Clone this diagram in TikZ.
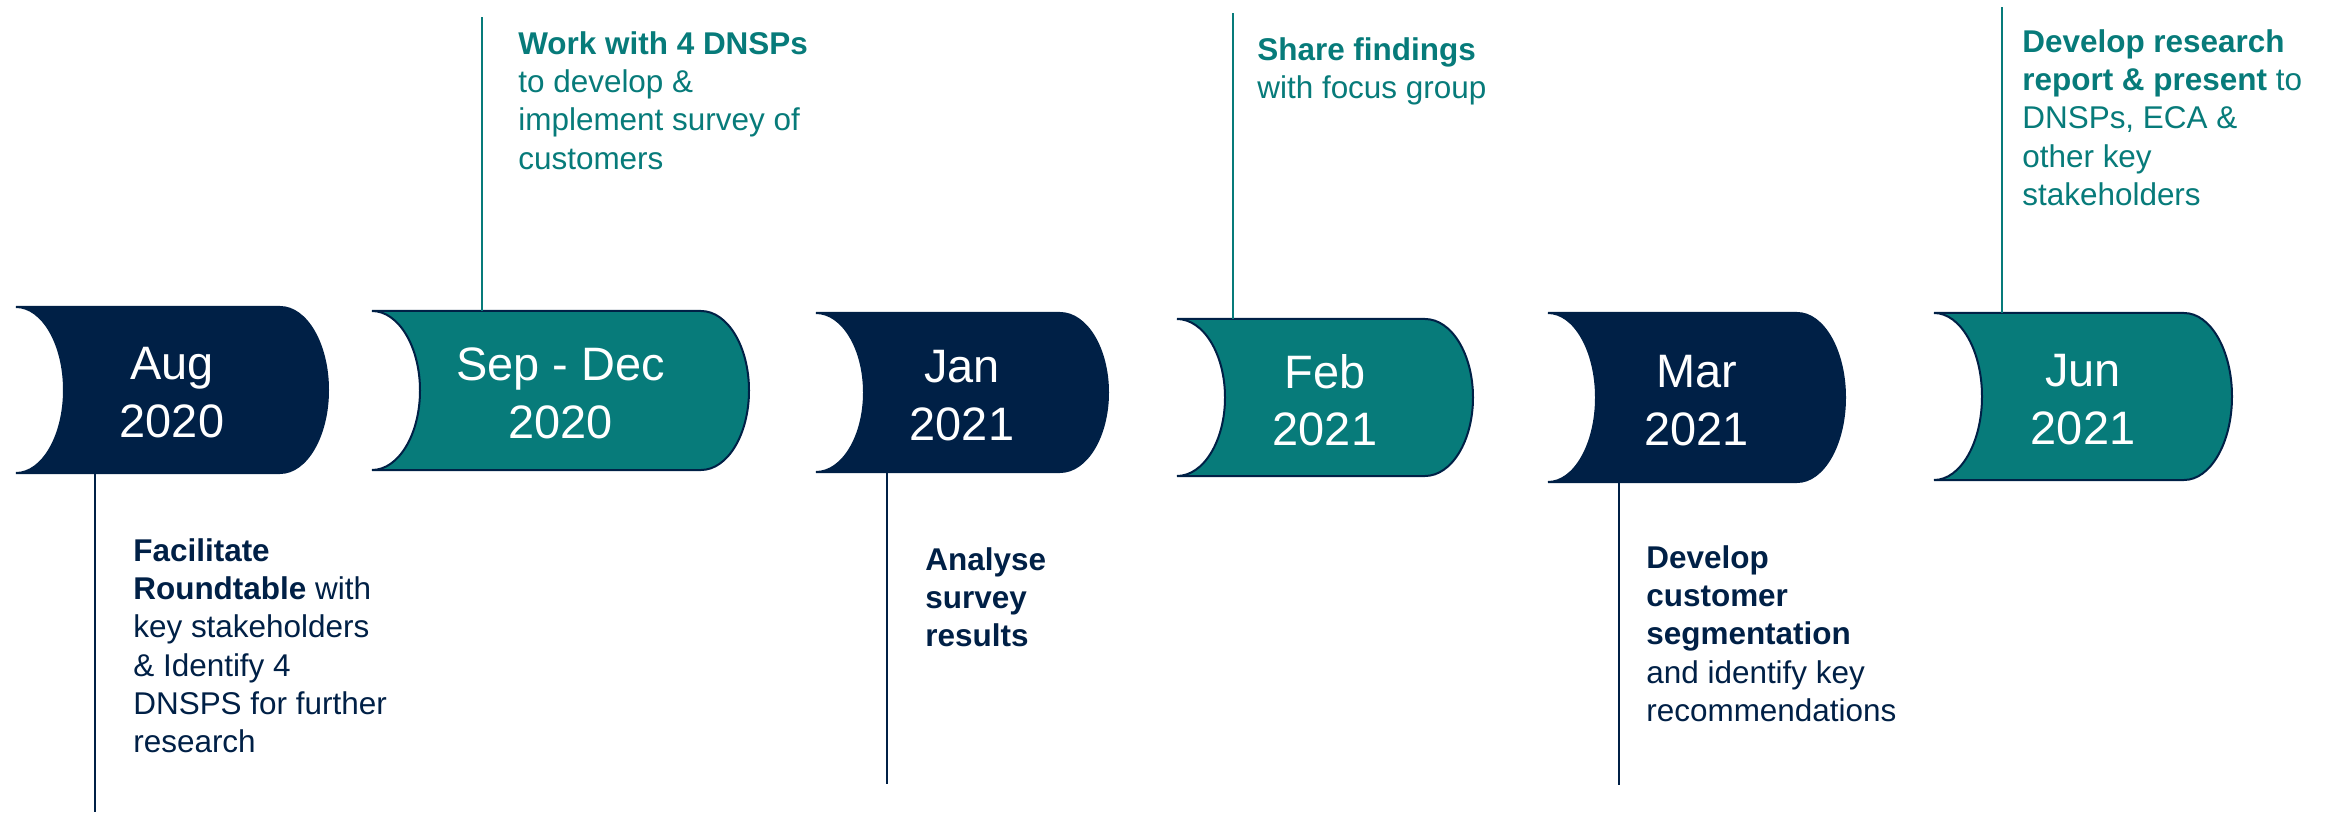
\documentclass[tikz,border=0pt]{standalone}
\usepackage{fontspec}
\setmainfont{Liberation Sans}
\definecolor{navy}{RGB}{0,32,70}
\definecolor{tealgreen}{RGB}{7,123,122}
\newcommand{\monthtab}[7][]{\draw[tabline,#1] (#2,#3) -- ++(#4-48,0) arc[start angle=90,end angle=-90,x radius=9.6mm,y radius=#5*0.1mm] -- ++(48-#4,0) arc[start angle=-90,end angle=90,x radius=9.6mm,y radius=#5*0.1mm] -- cycle; \node[monthtext,minimum width=#4*0.2mm,minimum height=#5*0.2mm] at (#2+#4/2,#3-#5/2) (#6) {#7}}

\begin{document}
\begin{tikzpicture}[x=0.2mm,y=0.2mm,
	tabline/.style={draw=navy,line width=0.4mm},
	monthtext/.style={text=white,align=center,inner sep=0pt,text depth=0pt,font=\fontsize{26.7}{33}\selectfont},
	notetext/.style={anchor=north west,align=left,inner sep=0pt,font=\fontsize{17.9}{21.8}\selectfont},
	stem/.style={line width=0.45mm}]
				\path[fill=white] (0,0) rectangle (2336,812);
				
				\monthtab[fill=navy]{16}{505}{312}{166}{aug}{\raisebox{-1mm}{Aug}\\\raisebox{-1mm}{2020}};
				\monthtab[fill=tealgreen]{372}{501}{377}{159}{sep}{\raisebox{-1mm}{Sep - Dec}\\\raisebox{-1mm}{2020}};
				\monthtab[fill=navy]{816}{499}{292}{159}{jan}{\raisebox{-1mm}{Jan}\\\raisebox{-1mm}{2021}};
				\monthtab[fill=tealgreen]{1177}{493}{296}{157}{feb}{\raisebox{-1mm}{Feb}\\\raisebox{-1mm}{2021}};
				\monthtab[fill=navy]{1548}{499}{297}{169}{mar}{\raisebox{-1mm}{Mar}\\\raisebox{-1mm}{2021}};
				\monthtab[fill=tealgreen]{1934}{499}{298}{167}{jun}{\raisebox{-1mm}{Jun}\\\raisebox{-1mm}{2021}};
				
				\coordinate (augend) at (95,0);
				\coordinate (sepend) at (482,795);
				\coordinate (janend) at (887,28);
				\coordinate (febend) at (1233,799);
				\coordinate (marend) at (1619,27);
				\coordinate (junend) at (2002,805);
				
				\draw[stem,navy] (aug.south -| augend) -- (augend);
				\draw[stem,tealgreen] (sep.north -| sepend) -- (sepend);
				\draw[stem,navy] (jan.south -| janend) -- (janend);
				\draw[stem,tealgreen] (feb.north -| febend) -- (febend);
				\draw[stem,navy] (mar.south -| marend) -- (marend);
				\draw[stem,tealgreen] (jun.north -| junend) -- (junend);
				
				\node[notetext,text=navy] at (133,274) (augnote) {\textbf{Facilitate}\\\textbf{Roundtable} with\\key stakeholders\\\& Identify 4\\DNSPS for further\\research};
				\node[notetext,text=tealgreen] at (518,781) (sepnote) {\textbf{Work with 4 DNSPs}\\to develop \&\\implement survey of\\customers};
				\node[notetext,text=navy] at (925,265) (jannote) {\textbf{Analyse}\\\textbf{survey}\\\textbf{results}};
				\node[notetext,text=tealgreen] at (1257,775) (febnote) {\textbf{Share findings}\\with focus group};
				\node[notetext,text=navy] at (1646,267) (marnote) {\textbf{Develop}\\\textbf{customer}\\\textbf{segmentation}\\and identify key\\recommendations};
				\node[notetext,text=tealgreen] at (2022,783) (junnote) {\textbf{Develop research}\\\textbf{report \& present} to\\DNSPs, ECA \&\\other key\\stakeholders};
\end{tikzpicture}
\end{document}
